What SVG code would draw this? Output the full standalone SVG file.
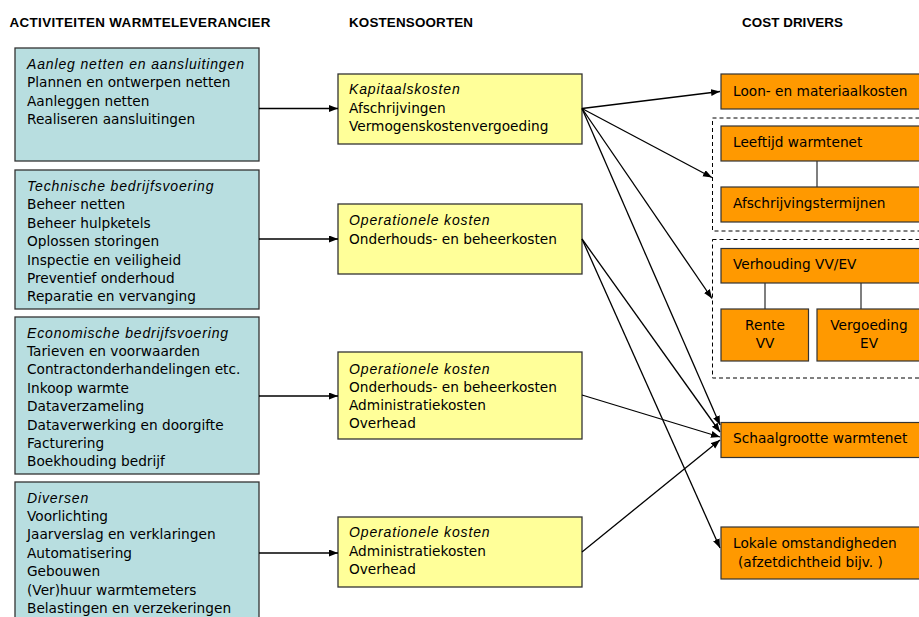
<svg xmlns="http://www.w3.org/2000/svg" width="919" height="617" viewBox="0 0 919 617">
<style>
.hdr{font-family:"Liberation Sans",Arial,sans-serif;font-weight:bold;font-size:13.4px;fill:#000}
.t{font-family:"DejaVu Sans",Verdana,sans-serif;font-size:13.7px;fill:#000}
.it{font-family:"Liberation Sans",Arial,sans-serif;font-style:italic;font-size:14px;letter-spacing:0.85px;fill:#000}
.blue{fill:#b8dee0;stroke:#333;stroke-width:1.3}
.yel{fill:#ffff99;stroke:#333;stroke-width:1.3}
.org{fill:#ff9900;stroke:#333;stroke-width:1.2}
.dash{fill:none;stroke:#000;stroke-width:1;stroke-dasharray:4,3}
.lk{stroke:#555;stroke-width:1.5;fill:none}
.c{stroke:#000;stroke-width:1.3;fill:none;marker-end:url(#ah)}
</style>
<defs>
<marker id="ah" markerUnits="userSpaceOnUse" markerWidth="10" markerHeight="8" refX="9" refY="3.5" orient="auto">
<path d="M0,0 L9,3.5 L0,7 z" fill="#000"/>
</marker>
</defs>
<rect width="919" height="617" fill="#fff"/>

<g id="headers">
<text class="hdr" x="9.5" y="27" textLength="261" lengthAdjust="spacing">ACTIVITEITEN WARMTELEVERANCIER</text>
<text class="hdr" x="349" y="27" textLength="124" lengthAdjust="spacing">KOSTENSOORTEN</text>
<text class="hdr" x="742" y="27" textLength="101" lengthAdjust="spacing">COST DRIVERS</text>
</g>

<g id="act-aanleg">
<rect class="blue" x="15" y="48" width="244" height="113"/>
<text class="it" x="27" y="68.5">Aanleg netten en aansluitingen</text>
<text class="t" x="27" y="87">Plannen en ontwerpen netten</text>
<text class="t" x="27" y="105.5">Aanleggen netten</text>
<text class="t" x="27" y="124">Realiseren aansluitingen</text>
</g>

<g id="act-technisch">
<rect class="blue" x="15" y="170" width="244" height="139"/>
<text class="it" x="27" y="191">Technische bedrijfsvoering</text>
<text class="t" x="27" y="209.4">Beheer netten</text>
<text class="t" x="27" y="227.8">Beheer hulpketels</text>
<text class="t" x="27" y="246.2">Oplossen storingen</text>
<text class="t" x="27" y="264.6">Inspectie en veiligheid</text>
<text class="t" x="27" y="283">Preventief onderhoud</text>
<text class="t" x="27" y="301.4">Reparatie en vervanging</text>
</g>

<g id="act-economisch">
<rect class="blue" x="15" y="317" width="244" height="157"/>
<text class="it" x="27" y="337.5">Economische bedrijfsvoering</text>
<text class="t" x="27" y="356">Tarieven en voorwaarden</text>
<text class="t" x="27" y="374.4">Contractonderhandelingen etc.</text>
<text class="t" x="27" y="392.8">Inkoop warmte</text>
<text class="t" x="27" y="411.2">Dataverzameling</text>
<text class="t" x="27" y="429.6">Dataverwerking en doorgifte</text>
<text class="t" x="27" y="448">Facturering</text>
<text class="t" x="27" y="466.4">Boekhouding bedrijf</text>
</g>

<g id="act-diversen">
<rect class="blue" x="15" y="482" width="244" height="150"/>
<text class="it" x="27" y="502.5">Diversen</text>
<text class="t" x="27" y="520.9">Voorlichting</text>
<text class="t" x="27" y="539.3">Jaarverslag en verklaringen</text>
<text class="t" x="27" y="557.7">Automatisering</text>
<text class="t" x="27" y="576.1">Gebouwen</text>
<text class="t" x="27" y="594.5">(Ver)huur warmtemeters</text>
<text class="t" x="27" y="612.9">Belastingen en verzekeringen</text>
</g>

<g id="kost-kapitaal">
<rect class="yel" x="338" y="74" width="244" height="70"/>
<text class="it" x="349" y="94">Kapitaalskosten</text>
<text class="t" x="349" y="112.5">Afschrijvingen</text>
<text class="t" x="349" y="131">Vermogenskostenvergoeding</text>
</g>

<g id="kost-oper1">
<rect class="yel" x="338" y="204" width="244" height="70"/>
<text class="it" x="349" y="225">Operationele kosten</text>
<text class="t" x="349" y="243.5">Onderhouds- en beheerkosten</text>
</g>

<g id="kost-oper2">
<rect class="yel" x="338" y="352" width="244" height="87"/>
<text class="it" x="349" y="373.5">Operationele kosten</text>
<text class="t" x="349" y="391.5">Onderhouds- en beheerkosten</text>
<text class="t" x="349" y="409.5">Administratiekosten</text>
<text class="t" x="349" y="427.5">Overhead</text>
</g>

<g id="kost-oper3">
<rect class="yel" x="338" y="517" width="244" height="70"/>
<text class="it" x="349" y="537">Operationele kosten</text>
<text class="t" x="349" y="555.5">Administratiekosten</text>
<text class="t" x="349" y="573.5">Overhead</text>
</g>

<g id="cd-loon">
<rect class="org" x="721" y="74" width="215" height="35"/>
<text class="t" x="733" y="95.5">Loon- en materiaalkosten</text>
</g>

<g id="cd-groep1">
<rect class="dash" x="712.5" y="118" width="230" height="113"/>
<line class="lk" x1="817" y1="161" x2="817" y2="187"/>
<g id="cd-leeftijd">
<rect class="org" x="721" y="126" width="215" height="35"/>
<text class="t" x="733" y="147">Leeftijd warmtenet</text>
</g>
<g id="cd-afschrijving">
<rect class="org" x="721" y="187" width="215" height="35"/>
<text class="t" x="733" y="208">Afschrijvingstermijnen</text>
</g>
</g>

<g id="cd-groep2">
<rect class="dash" x="712.5" y="239.5" width="230" height="138.5"/>
<line class="lk" x1="765" y1="283" x2="765" y2="309"/>
<line class="lk" x1="861" y1="283" x2="861" y2="309"/>
<g id="cd-verhouding">
<rect class="org" x="721" y="248.5" width="215" height="34.5"/>
<text class="t" x="733" y="269">Verhouding VV/EV</text>
</g>
<g id="cd-rente">
<rect class="org" x="721" y="309" width="87.5" height="52"/>
<text class="t" x="765" y="330" text-anchor="middle">Rente</text>
<text class="t" x="765" y="348" text-anchor="middle">VV</text>
</g>
<g id="cd-vergoeding">
<rect class="org" x="817" y="309" width="120" height="52"/>
<text class="t" x="869" y="330" text-anchor="middle">Vergoeding</text>
<text class="t" x="869" y="348" text-anchor="middle">EV</text>
</g>
</g>

<g id="cd-schaal">
<rect class="org" x="721" y="422.5" width="215" height="35"/>
<text class="t" x="733" y="443">Schaalgrootte warmtenet</text>
</g>

<g id="cd-lokaal">
<rect class="org" x="721" y="527" width="215" height="52"/>
<text class="t" x="733" y="548">Lokale omstandigheden</text>
<text class="t" x="738" y="567">(afzetdichtheid bijv. )</text>
</g>

<g id="connectors">
<line class="c" x1="259" y1="108.5" x2="338" y2="108.5"/>
<line class="c" x1="259" y1="239" x2="338" y2="239"/>
<line class="c" x1="259" y1="396" x2="338" y2="396"/>
<line class="c" x1="259" y1="553" x2="338" y2="553"/>
<line class="c" x1="582" y1="108.5" x2="720" y2="91.5"/>
<line class="c" x1="582" y1="108.5" x2="712" y2="177.5"/>
<line class="c" x1="582" y1="108.5" x2="712" y2="298.5"/>
<line class="c" x1="582" y1="108.5" x2="720" y2="425"/>
<line class="c" x1="582" y1="239" x2="720" y2="432"/>
<line class="c" x1="582" y1="239" x2="720" y2="548"/>
<line class="c" x1="582" y1="395" x2="720" y2="437"/>
<line class="c" x1="582" y1="552" x2="720" y2="440"/>
</g>
</svg>
